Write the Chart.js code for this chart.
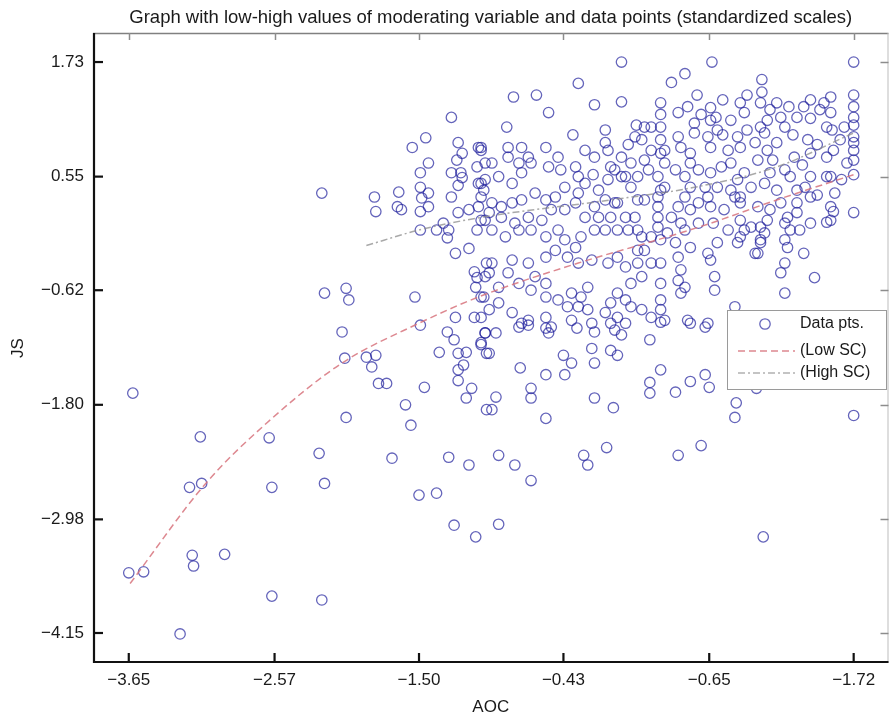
<!DOCTYPE html>
<html>
<head>
<meta charset="utf-8">
<script src="https://cdn.jsdelivr.net/npm/chart.js@4"></script>
<style>body{margin:0;background:#fff}</style>
</head>
<body>
<canvas id="myChart" width="895" height="716"></canvas>
<script>
var titleText = 'Graph with low-high values of moderating variable and data points (standardized scales)';

// tick positions and the labels printed under/next to them
var xTickVals = [-3.65, -2.57, -1.50, -0.43, 0.65, 1.72];
var xTickLabels = ['\u22123.65', '\u22122.57', '\u22121.50', '\u22120.43', '\u22120.65', '\u22121.72'];
var yTickVals = [1.73, 0.55, -0.62, -1.80, -2.98, -4.15];
var yTickLabels = ['1.73', '0.55', '\u22120.62', '\u22121.80', '\u22122.98', '\u22124.15'];

// moderation lines (AOC, JS)
var lowSC = [[-3.64,-3.64],[-3.08,-2.61],[-2.63,-1.99],[-2.07,-1.37],[-1.50,-0.96],[-1.06,-0.69],
  [-0.32,-0.34],[0.27,-0.10],[0.66,0.07],[1.15,0.31],[1.72,0.57]];
var highSC = [[-1.89,-0.16],[-1.50,0.00],[-1.04,0.13],[-0.08,0.31],[0.54,0.44],[1.15,0.65],[1.72,1.00]];

// observed data points (AOC, JS)
var dataPts = [
  [-3.62,-1.68],[-3.12,-2.13],[-2.61,-2.14],[-2.04,-1.93],[-2.07,-1.05],[-2.05,-1.32],[-1.89,-1.31],
  [-1.82,-1.29],[-1.85,-1.41],[-1.80,-1.58],[-1.74,-1.58],[-1.60,-1.80],[-1.56,-2.01],[-1.46,-1.62],
  [-1.49,-0.98],[-1.29,-1.05],[-1.24,-1.13],[-1.35,-1.26],[-1.21,-1.27],[-1.15,-1.26],[-1.17,-1.39],
  [-1.21,-1.44],[-1.21,-1.55],[-1.11,-1.63],[-1.15,-1.73],[-1.04,-1.16],[-1.00,-1.27],[-1.01,-1.06],
  [-1.00,-1.85],[-2.24,-2.30],[-1.70,-2.35],[-1.28,-2.34],[-1.13,-2.42],[-3.20,-2.65],[-3.11,-2.61],
  [-2.59,-2.65],[-2.20,-2.61],[-1.50,-2.73],[-1.37,-2.71],[-1.24,-3.04],[-1.08,-3.16],[-3.18,-3.35],
  [-3.17,-3.46],[-2.94,-3.34],[-3.65,-3.53],[-3.54,-3.52],[-2.59,-3.77],[-2.22,-3.81],[-3.27,-4.16],
  [-1.26,1.16],[-1.45,0.95],[-1.55,0.85],[-1.43,0.69],[-1.21,0.90],[-1.18,0.79],[-1.22,0.72],
  [-1.04,0.85],[-1.49,0.59],[-1.26,0.59],[-1.19,0.59],[-1.18,0.54],[-1.21,0.46],[-1.07,0.65],
  [-1.06,0.48],[-1.02,0.41],[-2.22,0.38],[-1.83,0.34],[-1.82,0.19],[-1.65,0.39],[-1.66,0.24],
  [-1.63,0.21],[-1.49,0.44],[-1.43,0.38],[-1.48,0.33],[-1.49,0.19],[-1.43,0.24],[-1.26,0.34],
  [-1.21,0.18],[-1.13,0.21],[-1.06,0.24],[-1.04,0.10],[-1.07,0.00],[-1.49,0.00],[-1.37,0.00],
  [-1.32,0.07],[-1.28,0.00],[-1.29,-0.08],[-1.13,-0.19],[-1.23,-0.24],[-2.20,-0.65],[-2.04,-0.60],
  [-2.02,-0.72],[-1.53,-0.69],[-1.09,-0.43],[-1.07,-0.49],[-1.08,-0.59],[-1.00,-0.34],[-1.01,-0.48],
  [-1.02,-0.69],[-1.23,-0.90],[-1.09,-0.90],[-1.04,-0.90],
  [0.00,1.73],[0.67,1.73],[1.72,1.73],[-0.32,1.51],[0.37,1.52],[0.47,1.61],[1.04,1.55],[1.04,1.42],
  [-0.80,1.37],[-0.63,1.39],[-0.54,1.21],[-0.20,1.29],[0.00,1.32],[0.29,1.31],[1.72,1.39],[1.72,1.27],
  [1.72,1.16],[-0.85,1.06],[-0.36,0.98],[0.11,1.08],[0.17,1.06],[0.29,1.06],[0.42,1.21],[0.49,1.27],
  [0.59,1.19],[0.66,1.26],[0.70,1.16],[0.81,1.13],[0.88,1.31],[0.91,1.21],[1.03,1.31],[1.10,1.24],
  [1.18,1.16],[1.24,1.27],[1.40,1.34],[1.40,1.15],[1.50,1.31],[1.55,1.37],[1.52,1.06],[1.56,1.03],
  [1.72,0.96],[1.72,0.90],[1.72,0.82],[1.72,0.57],[1.72,0.18],[1.03,1.06],[1.06,1.00],[1.21,1.06],
  [0.93,1.03],[0.86,0.96],[0.71,1.03],[0.64,0.96],[0.54,1.00],[0.42,0.96],[0.29,0.93],[0.22,0.82],
  [0.32,0.82],[0.44,0.85],[0.51,0.79],[0.66,0.85],[0.79,0.82],[0.88,0.85],[0.99,0.90],[1.08,0.82],
  [1.15,0.90],[1.28,0.75],[1.38,0.93],[1.40,0.79],[1.52,0.75],[1.57,0.82],[1.52,0.55],[1.40,0.55],
  [1.36,0.44],[1.58,0.38],[1.55,0.24],[1.57,0.19],[1.52,0.08],[1.32,0.00],[1.21,0.07],[1.23,0.13],
  [1.21,-0.10],[1.03,0.03],[1.06,-0.03],[1.01,-0.24],[1.03,-0.10],[0.91,0.00],[0.88,-0.07],[0.88,0.10],
  [0.88,0.28],[0.84,0.34],[0.81,0.41],[0.86,0.52],[0.91,0.59],[0.96,0.44],[1.06,0.48],[1.10,0.59],
  [1.15,0.41],[1.21,0.62],[1.25,0.55],[1.18,0.28],[1.10,0.21],[1.01,0.24],[1.35,-0.24],[0.68,0.07],
  [0.66,0.24],[0.64,0.34],[0.62,0.44],[0.66,0.59],[0.57,0.62],[0.51,0.69],[0.47,0.55],[0.51,0.44],
  [0.47,0.34],[0.42,0.24],[0.51,0.21],[0.47,0.00],[0.51,-0.18],[0.64,-0.24],[0.66,-0.31],[0.69,-0.48],
  [0.69,-0.62],[0.40,0.62],[0.32,0.69],[0.27,0.55],[0.32,0.44],[0.27,0.34],[0.27,0.24],[0.27,0.13],
  [0.27,0.03],[0.29,-0.10],[0.40,-0.13],[0.42,-0.28],[0.44,-0.41],[0.42,-0.52],[0.44,-0.65],[0.47,-0.59],
  [0.29,-0.55],[0.29,-0.72],[0.29,-0.82],[0.32,-0.93],[0.22,-0.34],[0.17,-0.21],[0.15,-0.07],[0.12,0.00],
  [0.10,0.13],[0.17,0.31],[0.07,0.44],[0.12,0.55],[0.17,0.72],[0.07,0.69],[0.00,0.75],[-0.05,0.62],
  [0.03,0.55],[-0.10,0.52],[-0.17,0.41],[-0.12,0.31],[-0.03,0.28],[0.05,0.00],[-0.03,0.00],[-0.12,0.00],
  [-0.20,0.00],[-0.30,-0.07],[-0.34,-0.18],[-0.40,-0.28],[-0.32,-0.34],[-0.22,-0.31],[-0.10,-0.34],
  [-0.03,-0.28],[0.03,-0.38],[0.12,-0.34],[0.15,-0.48],[0.07,-0.55],[-0.03,-0.65],[0.03,-0.72],
  [-0.08,-0.75],[-0.12,-0.85],[-0.03,-0.90],[0.07,-0.79],[0.15,-0.82],[0.22,-0.90],[-0.25,-0.59],
  [-0.30,-0.69],[-0.37,-0.65],[-0.32,-0.79],[-0.25,-0.82],[-0.40,-0.79],[-0.47,-0.72],[-0.56,-0.69],
  [-0.67,-0.62],[-0.56,-0.55],[-0.64,-0.48],[-0.76,-0.55],[-0.84,-0.44],[-0.91,-0.59],[-0.98,-0.44],
  [-0.96,-0.34],[-0.81,-0.31],[-0.69,-0.34],[-0.56,-0.28],[-0.49,-0.21],[-0.42,-0.10],[-0.47,0.00],
  [-0.56,-0.07],[-0.67,0.00],[-0.76,0.00],[-0.86,-0.07],[-0.96,0.00],[-1.01,0.10],[-0.89,0.13],
  [-0.79,0.07],[-0.69,0.13],[-0.59,0.10],[-0.52,0.21],[-0.42,0.21],[-0.34,0.28],[-0.32,0.38],
  [-0.27,0.48],[-0.42,0.44],[-0.49,0.34],[-0.56,0.31],[-0.64,0.38],[-0.74,0.31],[-0.81,0.28],
  [-0.89,0.24],[-0.96,0.28],[-1.04,0.34],[-1.01,0.52],[-0.91,0.55],[-0.81,0.48],[-0.74,0.59],
  [-0.67,0.69],[-0.69,0.75],[-0.76,0.69],[-0.84,0.75],[-0.84,0.85],[-0.96,0.69],[-1.04,0.82],
  [-0.74,0.85],[-0.56,0.85],[-0.47,0.75],[-0.54,0.65],[-0.45,0.62],[-0.34,0.65],[-0.32,0.55],
  [-0.27,0.82],[-0.20,0.75],[-0.12,1.03],[-0.12,0.90],[-0.08,0.65],[0.00,0.55],[0.10,0.96],
  [0.15,0.93],[0.22,1.06],[-0.05,0.28],[-0.20,0.24],[-0.27,0.13],[-0.17,0.13],[-0.08,0.13],[0.03,0.13],
  [0.12,-0.21],[0.22,-0.07],[0.34,-0.03],[0.37,0.13],[0.44,0.07],[0.57,0.07],[0.57,0.28],[0.71,0.44],
  [0.74,0.65],[0.81,0.69],[0.76,0.21],[0.79,0.00],[0.71,-0.13],[0.86,-0.13],[0.88,0.34],[1.30,0.18],
  [1.40,0.34],[1.40,0.07],[1.25,0.00],[1.23,-0.18],[1.21,-0.34],[1.55,0.55],[1.67,0.69],[1.62,0.93],
  [1.55,1.21],[1.65,1.06],[1.30,1.16],[1.15,1.31],[0.66,1.13],[0.54,1.10],[1.35,1.27],[1.47,1.24],
  [-1.04,-0.69],[-0.98,-0.82],[-0.91,-0.75],[-0.81,-0.85],[-0.69,-0.93],[-0.56,-0.90],[-0.52,-1.00],
  [-0.74,-0.96],[-0.37,-0.93],[-0.22,-0.96],[-0.08,-0.96],[0.03,-0.96],[0.49,-0.93],[0.64,-0.96],
  [0.99,-0.24],[1.18,-0.44],[1.21,-0.65],[1.03,-0.13],[0.84,-0.79],[1.30,0.28],[1.08,0.10],[0.96,0.03],
  [1.55,0.10],[-1.06,0.85],[-1.01,0.69],[-1.04,0.48],[-0.98,0.18],[1.43,-0.49],
  [-1.01,-1.06],[-0.93,-1.06],[-0.98,-1.27],[-1.04,-1.18],[-0.76,-1.00],[-0.69,-0.98],[-0.56,-1.01],
  [-0.54,-1.06],[-0.33,-1.01],[-0.20,-1.05],[-0.05,-1.03],[0.00,-1.08],[0.29,-0.95],[0.51,-0.96],
  [0.62,-1.00],[0.21,-1.13],[-0.22,-1.22],[-0.43,-1.29],[-0.37,-1.37],[-0.20,-1.37],[-0.08,-1.24],
  [-0.03,-1.29],[-0.75,-1.42],[-0.56,-1.49],[-0.42,-1.49],[-0.67,-1.63],[-0.67,-1.73],[-0.93,-1.72],
  [-0.96,-1.85],[-0.56,-1.94],[-0.20,-1.73],[-0.06,-1.83],[0.29,-1.44],[0.21,-1.57],[0.21,-1.68],
  [0.40,-1.67],[0.51,-1.56],[0.62,-1.49],[0.65,-1.62],[0.85,-1.78],[0.84,-1.93],[1.00,-1.63],
  [1.72,-1.91],[-0.91,-2.32],[-0.79,-2.42],[-0.67,-2.58],[-0.28,-2.32],[-0.25,-2.42],[-0.11,-2.24],
  [0.42,-2.32],[0.59,-2.22],[-0.91,-3.03],[1.05,-3.16],
  [1.72,1.08],[1.72,0.72],[0.29,1.19],[0.29,0.79],[0.29,0.41],[0.29,-0.34],[0.93,1.39],[1.08,1.13],
  [1.27,0.98],[1.01,0.72],[1.12,0.72],[1.34,0.67],[1.45,0.88],[1.63,0.52],[1.45,0.36],[1.30,0.41],
  [0.56,1.39],[0.75,1.34],[0.75,0.98],[0.05,0.88],[0.20,0.62],[-0.10,0.82],[0.12,0.31],[-0.21,0.57]
];

var fontFam = '"Liberation Sans", Arial, Helvetica, sans-serif';
var ink = '#1a1a1a';
var ptColor = 'rgba(28,28,155,0.68)';

function toXY(arr) {
  return arr.map(function(p) { return {x: p[0], y: p[1]}; });
}

// frame, inward ticks, title and the boxed legend
var decorPlugin = {
  id: 'decor',
  afterDatasetsDraw: function(chart) {
    var c = chart.ctx, a = chart.chartArea;
    var xs = chart.scales.x, ys = chart.scales.y;
    c.save();
    // top + right, light
    c.strokeStyle = '#808080';
    c.lineWidth = 1.5;
    c.beginPath();
    c.moveTo(a.left, a.top + 0.5); c.lineTo(a.right, a.top + 0.5);
    c.stroke();
    c.strokeStyle = '#bdbdbd';
    c.lineWidth = 1;
    c.beginPath();
    c.moveTo(a.right - 0.5, a.top); c.lineTo(a.right - 0.5, a.bottom);
    c.stroke();
    xTickVals.forEach(function(v) {
      var px = Math.round(xs.getPixelForValue(v)) + 0.5;
      c.strokeStyle = '#8c8c8c'; c.lineWidth = 1.5;
      c.beginPath(); c.moveTo(px, a.top); c.lineTo(px, a.top + 7); c.stroke();
    });
    yTickVals.forEach(function(v) {
      var py = Math.round(ys.getPixelForValue(v)) + 0.5;
      c.strokeStyle = '#8c8c8c'; c.lineWidth = 1.5;
      c.beginPath(); c.moveTo(a.right, py); c.lineTo(a.right - 8, py); c.stroke();
    });
    // left + bottom, black
    c.strokeStyle = '#111';
    c.lineWidth = 2.2;
    c.beginPath();
    c.moveTo(a.left + 1, a.top); c.lineTo(a.left + 1, a.bottom - 1); c.lineTo(a.right, a.bottom - 1);
    c.stroke();
    xTickVals.forEach(function(v) {
      var px = xs.getPixelForValue(v);
      c.beginPath(); c.moveTo(px, a.bottom); c.lineTo(px, a.bottom - 10); c.stroke();
    });
    yTickVals.forEach(function(v) {
      var py = ys.getPixelForValue(v);
      c.beginPath(); c.moveTo(a.left, py); c.lineTo(a.left + 10, py); c.stroke();
    });

    // title
    c.fillStyle = ink;
    c.font = '18.5px ' + fontFam;
    c.textAlign = 'center';
    c.textBaseline = 'alphabetic';
    c.fillText(titleText, (a.left + a.right) / 2, 23);

    // legend box
    var bx = 727, by = 310, bw = 159, bh = 79;
    c.fillStyle = '#fff';
    c.fillRect(bx, by, bw, bh);
    c.strokeStyle = '#9a9a9a';
    c.lineWidth = 1;
    c.strokeRect(bx + 0.5, by + 0.5, bw, bh);
    c.strokeStyle = ptColor;
    c.lineWidth = 1.3;
    c.beginPath(); c.arc(765, 324, 5.2, 0, Math.PI * 2); c.stroke();
    c.lineWidth = 1.5;
    c.strokeStyle = 'rgba(215,115,125,0.85)';
    c.setLineDash([7, 4]);
    c.beginPath(); c.moveTo(738, 351); c.lineTo(795, 351); c.stroke();
    c.strokeStyle = 'rgba(150,150,150,0.75)';
    c.setLineDash([7, 3, 2, 3]);
    c.beginPath(); c.moveTo(738, 373); c.lineTo(795, 373); c.stroke();
    c.setLineDash([]);
    c.fillStyle = ink;
    c.font = '16px ' + fontFam;
    c.textAlign = 'left';
    c.textBaseline = 'middle';
    c.fillText('Data pts.', 800, 324);
    c.fillText('(Low SC)', 800, 351);
    c.fillText('(High SC)', 800, 373);
    c.restore();
  }
};

var ctx = document.getElementById('myChart').getContext('2d');

var myChart = new Chart(ctx, {
  type: 'scatter',
  data: {
    datasets: [{
      label: '(Low SC)',
      data: toXY(lowSC),
      showLine: true,
      tension: 0.4,
      cubicInterpolationMode: 'monotone',
      borderColor: 'rgba(215,115,125,0.85)',
      borderWidth: 1.5,
      borderDash: [7, 4],
      pointRadius: 0,
      order: 0
    }, {
      label: '(High SC)',
      data: toXY(highSC),
      showLine: true,
      tension: 0.4,
      cubicInterpolationMode: 'monotone',
      borderColor: 'rgba(140,140,140,0.75)',
      borderWidth: 1.5,
      borderDash: [7, 3, 2, 3],
      pointRadius: 0,
      order: 0
    }, {
      label: 'Data pts.',
      data: toXY(dataPts),
      pointRadius: 5.2,
      pointBorderWidth: 1.3,
      pointBackgroundColor: 'rgba(0,0,0,0)',
      pointBorderColor: ptColor,
      order: 1
    }]
  },
  options: {
    responsive: false,
    animation: false,
    devicePixelRatio: 1,
    layout: { padding: { top: 33, right: 3, left: 0, bottom: 0 } },
    plugins: {
      legend: { display: false },
      title: { display: false },
      tooltip: { enabled: false }
    },
    scales: {
      x: {
        type: 'linear',
        min: -3.915,
        max: 1.978,
        afterBuildTicks: function(s) { s.ticks = xTickVals.map(function(v) { return {value: v}; }); },
        afterFit: function(s) { s.height = 53; },
        grid: { display: false, drawTicks: false },
        border: { display: false },
        ticks: {
          autoSkip: false, maxRotation: 0, padding: 7, color: ink,
          font: { size: 17, family: fontFam },
          callback: function(v, i) { return xTickLabels[i]; }
        },
        title: { display: true, text: 'AOC', color: ink, font: { size: 17, family: fontFam }, padding: { top: 0, bottom: -2 } }
      },
      y: {
        type: 'linear',
        min: -4.459,
        max: 2.029,
        afterBuildTicks: function(s) { s.ticks = yTickVals.map(function(v) { return {value: v}; }); },
        afterFit: function(s) { s.width = 93; },
        grid: { display: false, drawTicks: false },
        border: { display: false },
        ticks: {
          autoSkip: false, padding: 9, color: ink,
          font: { size: 17, family: fontFam },
          callback: function(v, i) { return yTickLabels[i]; }
        },
        title: { display: true, text: 'JS', color: ink, font: { size: 17, family: fontFam }, padding: { top: 8, bottom: 0 } }
      }
    }
  },
  plugins: [decorPlugin]
});
</script>
</body>
</html>
